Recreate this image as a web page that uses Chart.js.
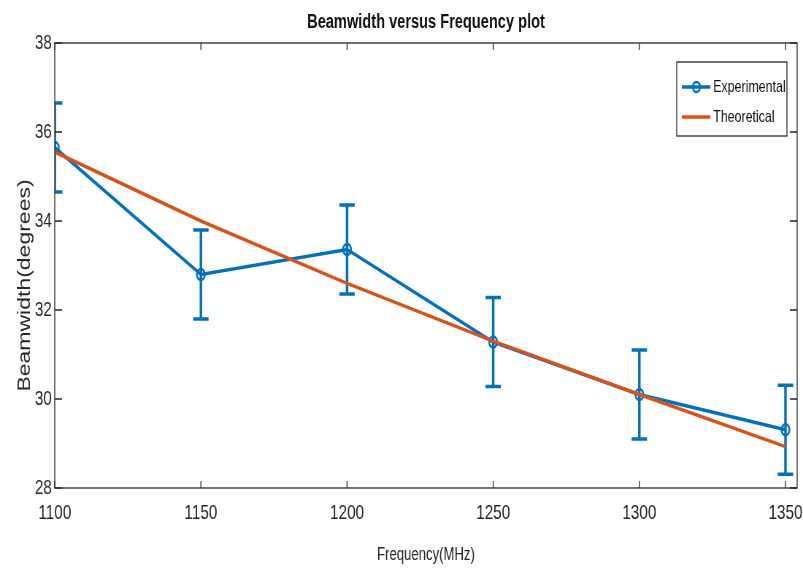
<!DOCTYPE html>
<html>
<head>
<meta charset="utf-8">
<script src="https://cdn.jsdelivr.net/npm/chart.js@4/dist/chart.umd.min.js"></script>
<style>
  html, body { margin: 0; padding: 0; background: #fff; overflow: hidden; width: 803px; height: 572px; }
  /* the reference figure is squeezed sideways, so draw wide and squeeze */
  #wrap { width: 1100px; height: 572px; transform: scaleX(0.73); transform-origin: 0 0; }
</style>
</head>
<body>
<div id="wrap"><canvas id="c"></canvas></div>
<script>
const frequency = [1100, 1150, 1200, 1250, 1300, 1350];
const experimental = [35.65, 32.8, 33.36, 31.28, 30.1, 29.31];
const expError = [1.0, 1.0, 1.0, 1.0, 1.0, 1.0];
const theoretical = [35.55, 34.0, 32.6, 31.3, 30.1, 28.93];
const xTicks = [1100, 1150, 1200, 1250, 1300, 1350];
const yTicks = [28, 30, 32, 34, 36, 38];

const BLUE = '#0072BD';
const ORANGE = '#D95319';
const AXIS = '#262626';
const FONT = "'Liberation Sans', Arial, sans-serif";
const TITLE = 'Beamwidth versus Frequency plot';
const Y_TITLE = 'Beamwidth(degrees)';

// matlab style box, inward ticks, error bars, titles and the inset legend
const matlabLook = {
    id: 'matlabLook',
    beforeDatasetsDraw(chart) {
        const ctx = chart.ctx;
        const x = chart.scales.x, y = chart.scales.y;
        const a = chart.chartArea;
        ctx.save();
        ctx.beginPath();
        ctx.rect(a.left, a.top, a.right - a.left, a.bottom - a.top);
        ctx.clip();
        ctx.strokeStyle = BLUE;
        ctx.lineWidth = 3.5;
        frequency.forEach((f, i) => {
            const px = x.getPixelForValue(f);
            const top = y.getPixelForValue(experimental[i] + expError[i]);
            const bot = y.getPixelForValue(experimental[i] - expError[i]);
            ctx.beginPath();
            ctx.moveTo(px, top); ctx.lineTo(px, bot);
            ctx.moveTo(px - 10.5, top); ctx.lineTo(px + 10.5, top);
            ctx.moveTo(px - 10.5, bot); ctx.lineTo(px + 10.5, bot);
            ctx.stroke();
        });
        ctx.restore();
    },
    afterDraw(chart) {
        const ctx = chart.ctx;
        const x = chart.scales.x, y = chart.scales.y;
        const a = chart.chartArea;
        ctx.save();
        ctx.strokeStyle = AXIS;
        ctx.lineWidth = 1.3;
        ctx.strokeRect(a.left, a.top, a.right - a.left, a.bottom - a.top);
        ctx.beginPath();
        xTicks.forEach(v => {
            const px = x.getPixelForValue(v);
            ctx.moveTo(px, a.bottom); ctx.lineTo(px, a.bottom - 7);
            ctx.moveTo(px, a.top); ctx.lineTo(px, a.top + 7);
        });
        yTicks.forEach(v => {
            const py = y.getPixelForValue(v);
            ctx.moveTo(a.left, py); ctx.lineTo(a.left + 10, py);
            ctx.moveTo(a.right, py); ctx.lineTo(a.right - 10, py);
        });
        ctx.stroke();

        // titles
        ctx.fillStyle = '#111';
        ctx.textAlign = 'center';
        ctx.textBaseline = 'middle';
        ctx.font = "bold 20px " + FONT;
        ctx.fillText(TITLE, (a.left + a.right) / 2, 22);
        ctx.save();
        ctx.translate(35, (a.top + a.bottom) / 2 + 20);
        ctx.rotate(-Math.PI / 2);
        ctx.fillStyle = AXIS;
        ctx.font = "23px " + FONT;
        ctx.fillText(Y_TITLE, 0, 0);
        ctx.restore();

        // legend
        const w = 151, h = 74;
        const lx = a.right - 14 - w, ly = a.top + 19;
        ctx.fillStyle = '#fff';
        ctx.fillRect(lx, ly, w, h);
        ctx.lineWidth = 1.3;
        ctx.strokeStyle = AXIS;
        ctx.strokeRect(lx, ly, w, h);
        const items = [
            { label: chart.data.datasets[0].label, color: BLUE, marker: true },
            { label: chart.data.datasets[1].label, color: ORANGE, marker: false }
        ];
        ctx.font = "17px " + FONT;
        ctx.textAlign = 'left';
        items.forEach((it, i) => {
            const cy = ly + 25 + i * 30;
            ctx.strokeStyle = it.color;
            ctx.lineWidth = 3.5;
            ctx.beginPath();
            ctx.moveTo(lx + 7, cy); ctx.lineTo(lx + 46, cy);
            ctx.stroke();
            if (it.marker) {
                ctx.lineWidth = 2.5;
                ctx.beginPath();
                ctx.arc(lx + 27, cy, 5, 0, Math.PI * 2);
                ctx.stroke();
            }
            ctx.fillStyle = '#111';
            ctx.fillText(it.label, lx + 50, cy);
        });
        ctx.restore();
    }
};

new Chart(document.getElementById('c'), {
    type: 'line',
    data: {
        datasets: [
            {
                label: 'Experimental',
                data: frequency.map((f, i) => ({ x: f, y: experimental[i] })),
                borderColor: BLUE,
                borderWidth: 3.5,
                pointRadius: 5.5,
                pointBorderWidth: 2.5,
                pointBackgroundColor: 'rgba(0,0,0,0)',
                pointBorderColor: BLUE,
                order: 1
            },
            {
                label: 'Theoretical',
                data: frequency.map((f, i) => ({ x: f, y: theoretical[i] })),
                borderColor: ORANGE,
                borderWidth: 3.5,
                pointRadius: 0,
                order: 0
            }
        ]
    },
    options: {
        responsive: true,
        maintainAspectRatio: false,
        animation: false,
        layout: { padding: { left: 0, right: 8, top: 43, bottom: 0 } },
        plugins: {
            legend: { display: false },
            tooltip: { enabled: false },
            title: { display: false }
        },
        scales: {
            x: {
                type: 'linear',
                min: 1100,
                max: 1354,
                grid: { display: false, drawTicks: false },
                border: { display: false },
                ticks: {
                    stepSize: 50,
                    includeBounds: false,
                    padding: 13,
                    color: AXIS,
                    font: { family: FONT, size: 21 },
                    maxRotation: 0,
                    callback: v => String(v)
                },
                title: {
                    display: true,
                    text: 'Frequency(MHz)',
                    color: AXIS,
                    font: { family: FONT, size: 18 },
                    padding: { top: 0, bottom: 6 }
                },
                afterFit(scale) {
                    scale.height = 84;
                    scale.paddingLeft = 0;
                    scale.paddingRight = 0;
                }
            },
            y: {
                min: 28,
                max: 38,
                grid: { display: false, drawTicks: false },
                border: { display: false },
                ticks: {
                    stepSize: 2,
                    padding: 4,
                    color: AXIS,
                    font: { family: FONT, size: 21 }
                },
                title: { display: false },
                afterFit(scale) {
                    scale.width = 75;
                    scale.paddingTop = 0;
                    scale.paddingBottom = 0;
                }
            }
        }
    },
    plugins: [matlabLook]
});
</script>
</body>
</html>
